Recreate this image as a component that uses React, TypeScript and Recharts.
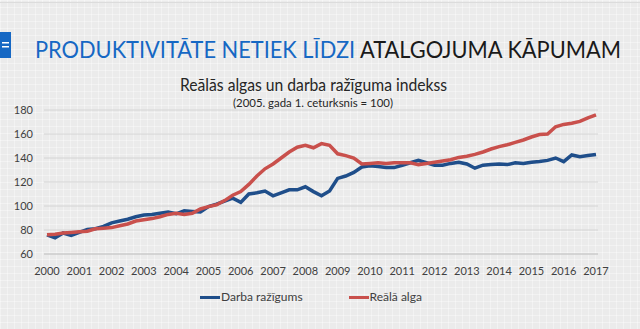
import React from "react";
import { CartesianGrid, Line, LineChart, XAxis, YAxis } from "recharts";

const years = [
  2000, 2001, 2002, 2003, 2004, 2005, 2006, 2007, 2008, 2009, 2010, 2011,
  2012, 2013, 2014, 2015, 2016, 2017,
];

// quarterly, 2000 Q1 .. 2017 Q1
const productivity = [
  76, 73.5, 77.5, 75.5, 78, 80.5, 81, 83, 86, 87.5, 89, 91, 92.5, 93, 94, 95,
  93.5, 96, 95.5, 95, 99.5, 101.5, 104, 106.5, 103, 110, 111, 112.5, 108.5,
  111, 113.5, 113.5, 116, 112, 108.5, 112.5, 123, 125, 128, 132.5, 133.5, 133,
  132, 132, 134, 136, 138, 136, 134, 134, 135.5, 136.5, 135, 131.5, 134, 134.5,
  135, 134.5, 136, 135.5, 136.5, 137, 138, 140, 137, 142.5, 141, 142, 143,
];

const realWage = [
  76, 76.5, 77.5, 78, 78.5, 79, 81, 81.5, 82, 83.5, 85, 87.5, 88.5, 89.5, 91,
  93, 94, 93, 94, 97.5, 99.5, 101, 104.5, 109, 112, 118, 125, 131, 135, 140,
  145, 149, 150.5, 148.5, 152, 150.5, 143.5, 142, 140, 135, 135.5, 136, 135.5,
  136, 136, 136, 134.5, 135.5, 136.5, 137.5, 138.5, 140.5, 141.5, 143, 145,
  147.5, 149.5, 151, 153, 155, 157.5, 159.5, 160, 166, 168, 169, 170.5, 173.5,
  176,
];

const yTicks = [60, 80, 100, 120, 140, 160, 180];

const quarters: string[] = [];
years.forEach((y) => {
  for (let q = 1; q <= 4; q++) {
    if (quarters.length < productivity.length) quarters.push(`${y} Q${q}`);
  }
});

const data = quarters.map((q, i) => ({
  quarter: q,
  prod: productivity[i],
  wage: realWage[i],
}));

const FONT = "Lato, 'Open Sans', sans-serif";
const BLUE = "#1f4e8a";
const RED = "#c9504c";

const series = [
  { key: "prod", name: "Darba ražīgums", color: BLUE },
  { key: "wage", name: "Reālā alga", color: RED },
];

export default function App() {
  return (
    <div
      style={{
        position: "absolute",
        left: 0,
        top: 0,
        width: 640,
        height: 329,
        overflow: "hidden",
        backgroundColor: "#ebebeb",
        backgroundImage:
          "linear-gradient(rgba(255,255,255,0.35) 1px, transparent 1px), linear-gradient(90deg, rgba(255,255,255,0.35) 1px, transparent 1px)",
        backgroundSize: "7px 7px",
      }}
    >
      <svg
        width={640}
        height={112}
        style={{ position: "absolute", left: 0, top: 0, pointerEvents: "none" }}
      >
        <line x1={0} y1={2.5} x2={640} y2={2.5} stroke="#dcdcdc" />
        <rect x={0} y={32} width={11} height={26} fill="#1668c4" />
        <rect x={2} y={42} width={7} height={1.5} fill="#ffffff" />
        <rect x={2} y={46} width={7} height={1.5} fill="#ffffff" />
        <text
          x={35}
          y={58}
          fontFamily={FONT}
          fontSize={23}
          textLength={586}
          lengthAdjust="spacingAndGlyphs"
        >
          <tspan fill="#1668c4">PRODUKTIVITĀTE NETIEK LĪDZI </tspan>
          <tspan fill="#1a1a1a">ATALGOJUMA KĀPUMAM</tspan>
        </text>
        <text
          x={180}
          y={91}
          fontFamily={FONT}
          fontSize={17}
          fill="#262626"
          textLength={267}
          lengthAdjust="spacingAndGlyphs"
        >
          Reālās algas un darba ražīguma indekss
        </text>
        <text
          x={233}
          y={107}
          fontFamily={FONT}
          fontSize={12}
          fill="#262626"
          textLength={160}
          lengthAdjust="spacingAndGlyphs"
        >
          (2005. gada 1. ceturksnis = 100)
        </text>
      </svg>
      <LineChart
        width={640}
        height={329}
        data={data}
        margin={{ top: 110, right: 42, bottom: 45, left: 4 }}
      >
        <CartesianGrid vertical={false} stroke="#d4d4d4" />
        <XAxis
          dataKey="quarter"
          interval={3}
          tickLine={false}
          axisLine={{ stroke: "#c8c8c8" }}
          padding={{ left: 3, right: 2 }}
          tickFormatter={(v: string) => v.slice(0, 4)}
          tick={{ fill: "#404040", fontSize: 11, fontFamily: FONT }}
          tickMargin={7}
          height={30}
        />
        <YAxis
          domain={[60, 180]}
          ticks={yTicks}
          interval={0}
          width={40}
          tickLine={false}
          axisLine={false}
          tick={{ fill: "#404040", fontSize: 11, fontFamily: FONT }}
          tickMargin={5}
        />
        {series.map((s) => (
          <Line
            key={s.key}
            name={s.name}
            dataKey={s.key}
            stroke={s.color}
            strokeWidth={3.5}
            dot={false}
            isAnimationActive={false}
          />
        ))}
      </LineChart>
      <div
        style={{
          position: "absolute",
          left: 200,
          top: 289,
          display: "flex",
          fontFamily: FONT,
          fontSize: 12,
          color: "#404040",
          lineHeight: "16px",
        }}
      >
        {series.map((s, i) => (
          <div
            key={s.key}
            style={{ display: "flex", alignItems: "center", marginRight: i === 0 ? 46 : 0 }}
          >
            <span
              style={{
                display: "inline-block",
                width: 20,
                height: 3,
                background: s.color,
                marginRight: 1,
              }}
            />
            <span>{s.name}</span>
          </div>
        ))}
      </div>
    </div>
  );
}
